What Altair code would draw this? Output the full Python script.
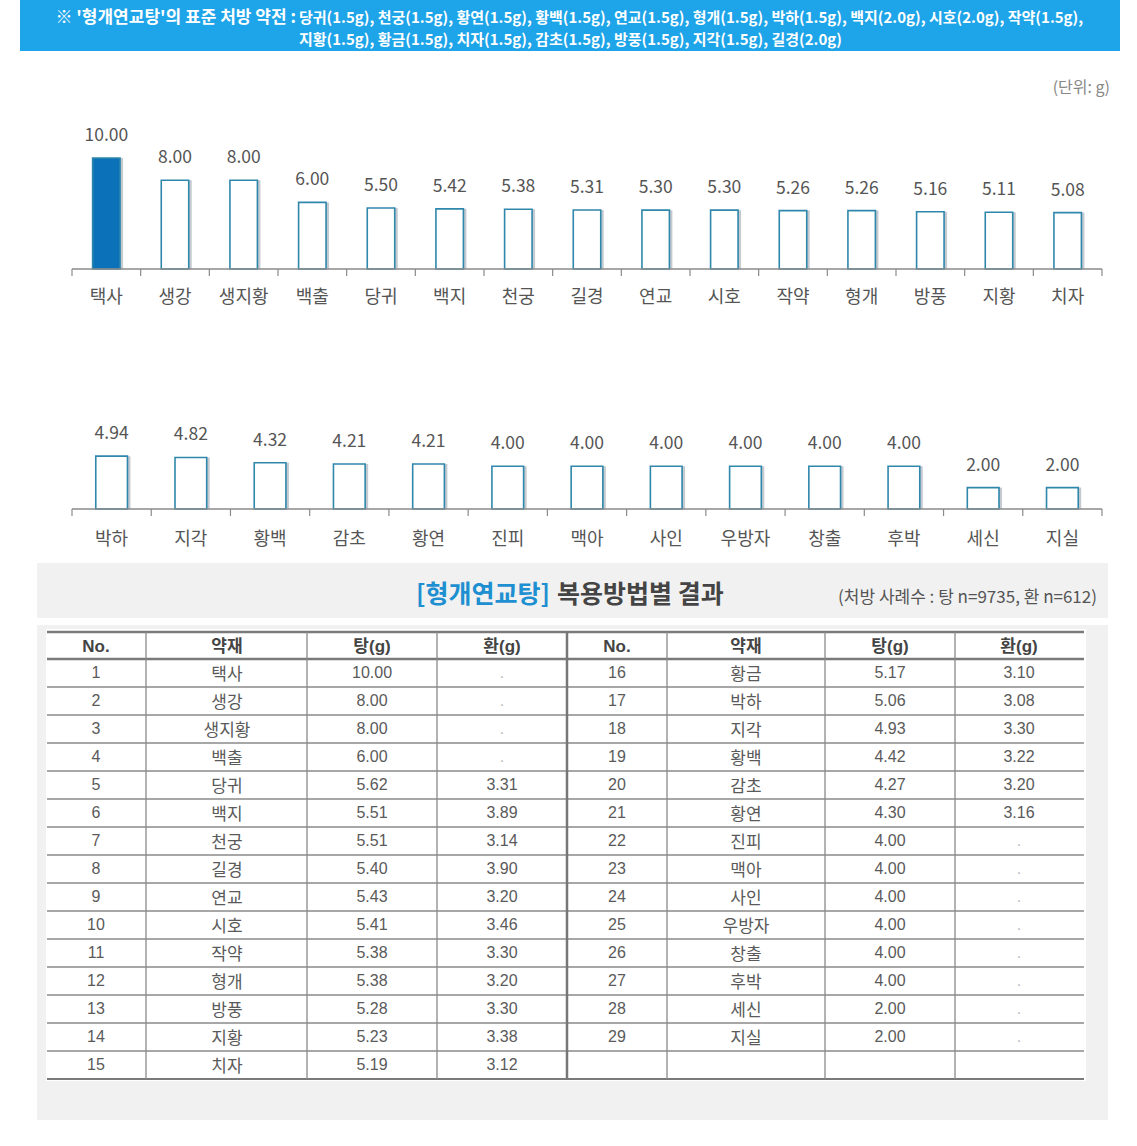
import altair as alt
import pandas as pd

# ---------------- data ----------------
row1_herbs = ["택사", "생강", "생지황", "백출", "당귀", "백지", "천궁", "길경", "연교", "시호",
              "작약", "형개", "방풍", "지황", "치자"]
row1_vals = [10.00, 8.00, 8.00, 6.00, 5.50, 5.42, 5.38, 5.31, 5.30, 5.30, 5.26, 5.26, 5.16, 5.11, 5.08]

row2_herbs = ["박하", "지각", "황백", "감초", "황연", "진피", "맥아", "사인", "우방자", "창출",
              "후박", "세신", "지실"]
row2_vals = [4.94, 4.82, 4.32, 4.21, 4.21, 4.00, 4.00, 4.00, 4.00, 4.00, 4.00, 2.00, 2.00]

tbl_no = list(range(1, 30))
tbl_herbs = ["택사", "생강", "생지황", "백출", "당귀", "백지", "천궁", "길경", "연교", "시호",
             "작약", "형개", "방풍", "지황", "치자", "황금", "박하", "지각", "황백", "감초",
             "황연", "진피", "맥아", "사인", "우방자", "창출", "후박", "세신", "지실"]
tbl_tang = [10.00, 8.00, 8.00, 6.00, 5.62, 5.51, 5.51, 5.40, 5.43, 5.41,
            5.38, 5.38, 5.28, 5.23, 5.19, 5.17, 5.06, 4.93, 4.42, 4.27,
            4.30, 4.00, 4.00, 4.00, 4.00, 4.00, 4.00, 2.00, 2.00]
tbl_hwan = [None, None, None, None, 3.31, 3.89, 3.14, 3.90, 3.20, 3.46,
            3.30, 3.20, 3.30, 3.38, 3.12, 3.10, 3.08, 3.30, 3.22, 3.20,
            3.16, None, None, None, None, None, None, None, None]
tbl_columns = ["No.", "약재", "탕(g)", "환(g)"]

header_prefix = "※ '형개연교탕'의 표준 처방 약전 :"
header_line1 = ("당귀(1.5g), 천궁(1.5g), 황연(1.5g), 황백(1.5g), 연교(1.5g), 형개(1.5g), "
                "박하(1.5g), 백지(2.0g), 시호(2.0g), 작약(1.5g),")
header_line2 = "지황(1.5g), 황금(1.5g), 치자(1.5g), 감초(1.5g), 방풍(1.5g), 지각(1.5g), 길경(2.0g)"
unit_text = "(단위: g)"
title_blue = "[형개연교탕]"
title_rest = "복용방법별 결과"
title_note = "(처방 사례수 : 탕 n=9735, 환 n=612)"

# ---------------- helpers ----------------
W, H = 1137, 1146
KR = "Noto Sans CJK KR"
NUM = "Liberation Sans, Noto Sans CJK KR"
ONE = pd.DataFrame({"k": [0]})


def rect(x, x2, y, y2, color):
    return alt.Chart(ONE).mark_rect(color=color).encode(
        x=alt.value(x), x2=alt.value(x2), y=alt.value(y), y2=alt.value(y2))


def label(text, x, y, size, color, align="center", weight="normal", font=KR):
    return alt.Chart(ONE).mark_text(
        text=text, fontSize=size, color=color, align=align, baseline="middle",
        fontWeight=weight, font=font).encode(x=alt.value(x), y=alt.value(y))


def hline(x, x2, y, color, width):
    return alt.Chart(ONE).mark_rule(color=color, strokeWidth=width).encode(
        x=alt.value(x), x2=alt.value(x2), y=alt.value(y))


def vline(x, y, y2, color, width):
    return alt.Chart(ONE).mark_rule(color=color, strokeWidth=width).encode(
        x=alt.value(x), y=alt.value(y), y2=alt.value(y2))


def bar_row(herbs, vals, x0, x1, base, top, label_y, highlight):
    df = pd.DataFrame({"herb": herbs, "value": vals})
    xs = alt.X("herb:N", sort=None, axis=None,
               scale=alt.Scale(domain=herbs, range=[x0, x1], paddingInner=0.6, paddingOuter=0.3))
    ys = alt.Y("value:Q", axis=None,
               scale=alt.Scale(domain=[0, 10], range=[base, top], nice=False, zero=True))
    c = alt.Chart(df)
    shadow = c.mark_bar(color="#7d8a96", opacity=0.45, xOffset=3).encode(x=xs, y=ys)
    bars = c.mark_bar(stroke="#2f87ab", strokeWidth=1.6).encode(
        x=xs, y=ys,
        fill=alt.condition(f"datum.herb == '{highlight}'", alt.value("#0b72b9"), alt.value("white")))
    vals_t = c.mark_text(fontSize=17.5, color="#555555", font=KR, baseline="middle", dy=-22).encode(
        x=xs, y=ys, text=alt.Text("value:Q", format=".2f"))
    cats = c.mark_text(fontSize=18, color="#555555", font=KR, baseline="middle").encode(
        x=xs, y=alt.value(label_y), text="herb:N")
    n = len(herbs)
    bdf = pd.DataFrame({"b": list(range(n + 1))})
    ticks = alt.Chart(bdf).mark_rule(color="#8a8a8a", strokeWidth=1.2).encode(
        x=alt.X("b:Q", axis=None, scale=alt.Scale(domain=[0, n], range=[x0, x1], nice=False, zero=False)),
        y=alt.value(base), y2=alt.value(base + 7))
    axis_line = hline(x0, x1, base, "#8a8a8a", 1.5)
    return [shadow, bars, axis_line, ticks, vals_t, cats]


layers = []

# banner
layers.append(rect(20, 1120, 0, 51, "#1ea4e8"))
layers.append(label(header_prefix, 296, 18, 17, "white", align="right", weight="bold"))
layers.append(label(header_line1, 299, 18, 15, "white", align="left", weight="bold"))
layers.append(label(header_line2, 299, 40, 15, "white", align="left", weight="bold"))
layers.append(label(unit_text, 1110, 88, 16, "#888888", align="right"))

# bar rows
layers += bar_row(row1_herbs, row1_vals, 72, 1102, 269, 158, 298, "택사")
layers += bar_row(row2_herbs, row2_vals, 72, 1102, 509, 402, 540, "")

# table panel backgrounds
layers.append(rect(37, 1108, 563, 618, "#f1f1f1"))
layers.append(rect(37, 1108, 625, 1120, "#f1f1f1"))
layers.append(rect(46, 1086, 629, 1081, "white"))
layers.append(label(title_blue, 550, 595, 25, "#1e8fd0", align="right", weight="bold"))
layers.append(label(title_rest, 557, 595, 25, "#444444", align="left", weight="bold"))
layers.append(label(title_note, 1097, 598, 17, "#555555", align="right"))

# table data
left = pd.DataFrame({
    "no": tbl_no[:15], "herb": tbl_herbs[:15], "tang": tbl_tang[:15],
    "hwan": ["." if v is None else f"{v:.2f}" for v in tbl_hwan[:15]],
    "pos": list(range(1, 16))})
right = pd.DataFrame({
    "no": tbl_no[15:], "herb": tbl_herbs[15:], "tang": tbl_tang[15:],
    "hwan": ["." if v is None else f"{v:.2f}" for v in tbl_hwan[15:]],
    "pos": list(range(1, 15))})

ys_tbl = alt.Y("pos:O", axis=None,
               scale=alt.Scale(type="point", domain=list(range(1, 16)), range=[659, 1079], padding=0.5))

col_centers_left = [96, 227, 372, 502]
col_centers_right = [617, 746, 890, 1019]

for df, cx in [(left, col_centers_left), (right, col_centers_right)]:
    c = alt.Chart(df)
    layers.append(c.mark_text(fontSize=16, color="#5a5a5a", font=NUM, baseline="middle").encode(
        x=alt.value(cx[0]), y=ys_tbl, text="no:N"))
    layers.append(c.mark_text(fontSize=17, color="#5a5a5a", font=KR, baseline="middle", dy=2).encode(
        x=alt.value(cx[1]), y=ys_tbl, text="herb:N"))
    layers.append(c.mark_text(fontSize=16, color="#5a5a5a", font=NUM, baseline="middle").encode(
        x=alt.value(cx[2]), y=ys_tbl, text=alt.Text("tang:Q", format=".2f")))
    layers.append(c.mark_text(fontSize=16, font=NUM, baseline="middle").encode(
        x=alt.value(cx[3]), y=ys_tbl, text="hwan:N",
        color=alt.condition("datum.hwan == '.'", alt.value("#bbbbbb"), alt.value("#5a5a5a"))))
    for name, x in zip(tbl_columns, cx):
        layers.append(label(name, x, 647, 17, "#444444", weight="bold", font=NUM))

# table lines
layers.append(alt.Chart(left).mark_rule(color="#8a8a8a", strokeWidth=1.3, yOffset=14).encode(
    x=alt.value(47), x2=alt.value(1084), y=ys_tbl))
layers.append(hline(47, 1084, 632, "#7a7a7a", 2.5))
layers.append(hline(47, 1084, 659, "#7a7a7a", 2.5))
layers.append(hline(47, 1084, 1079, "#7a7a7a", 2))
for x in [146, 307, 437, 667, 825, 955]:
    layers.append(vline(x, 632, 1079, "#8a8a8a", 1.3))
layers.append(vline(567, 632, 1079, "#777777", 2.5))

chart = alt.layer(*layers).resolve_scale(x="independent", y="independent").properties(
    width=W, height=H, autosize=alt.AutoSizeParams(type="none"), padding=0,
    background="white").configure_view(strokeOpacity=0)

chart.save("out.html", embed_options={"renderer": "svg", "actions": False})
